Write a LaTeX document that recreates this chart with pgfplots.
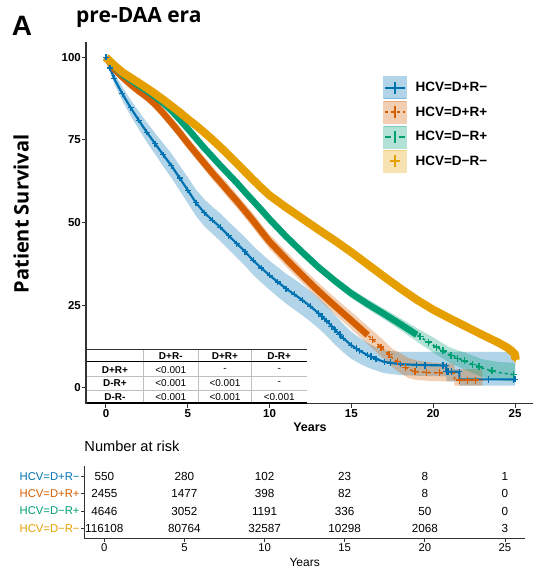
\documentclass[border=0pt]{standalone}
\usepackage{fontspec}
\setmainfont{Liberation Sans}
\newfontfamily\headfont{Open Sans}
\usepackage{pgfplots}
\usepackage{pgfplotstable}
\pgfplotsset{compat=1.18}
\usepgfplotslibrary{fillbetween}

\definecolor{kmblue}{HTML}{0072B2}
\definecolor{kmorange}{HTML}{D55E00}
\definecolor{kmgreen}{HTML}{009E73}
\definecolor{kmyellow}{HTML}{E69F00}
\definecolor{axgray}{HTML}{333333}

% survival curves: time (years), estimate, lower and upper CI (%)
\pgfplotstableread{
x y lo hi
0 100 100 100
0.25 96.8 95.6 98.0
0.5 93.6 92.0 95.2
1 89.0 86.9 91.1
1.5 84.8 82.4 87.2
2 81.0 78.3 83.7
2.5 77.3 74.3 80.3
3 73.9 70.7 77.1
3.5 70.5 67.0 74.0
4 67.2 63.5 70.9
4.5 63.5 59.7 67.3
5 59.8 55.9 63.7
5.5 56.0 52.0 60.0
6 53.0 48.9 57.1
6.5 50.7 46.6 54.8
7 48.5 44.3 52.7
7.5 46.0 41.8 50.2
8 43.6 39.3 47.9
8.5 41.2 36.9 45.5
9 38.5 34.1 42.9
9.5 36.2 31.8 40.6
10 34.0 29.6 38.4
10.5 32.0 27.5 36.5
11 30.0 25.5 34.5
11.5 28.3 23.7 32.9
12 26.5 21.9 31.1
12.5 24.6 20.0 29.2
13 22.5 17.9 27.1
13.5 20.2 15.6 24.8
14 17.5 13.0 22.0
14.5 15.0 10.7 19.3
15 12.8 8.7 16.9
15.5 11.2 7.3 15.1
16 9.8 6.1 13.5
16.5 8.7 5.2 12.2
17 7.8 4.4 11.3
18 7.1 3.8 10.8
19 6.9 3.6 10.8
20.8 6.7 3.4 10.8
20.8 4.8 1.9 10.8
21.6 4.8 1.9 10.8
21.6 2.5 0.6 10.8
25 2.5 0.6 10.8
}\tblue

\pgfplotstableread{
x y lo hi
0 100 100 100
0.5 96.5 95.7 97.3
1 94.0 93.0 95.0
1.5 91.8 90.6 93.0
2 89.8 88.5 91.1
2.5 88.0 86.6 89.4
3 85.8 84.3 87.3
3.5 83.1 81.5 84.7
4 80.2 78.5 81.9
4.5 77.2 75.4 79.0
5 74.0 72.2 75.8
5.5 71.0 69.1 72.9
6 68.0 66.1 69.9
6.5 65.0 63.0 67.0
7 62.2 60.2 64.2
7.5 59.3 57.2 61.4
8 56.5 54.4 58.6
8.5 53.5 51.4 55.6
9 50.5 48.3 52.7
9.5 47.3 45.1 49.5
10 44.2 42.0 46.4
11 39.0 36.7 41.3
12 34.0 31.7 36.3
13 29.2 26.8 31.6
14 24.7 22.2 27.2
15 20.3 17.7 22.9
16 15.9 13.2 18.6
17 11.4 8.6 14.2
17.5 9.0 6.2 11.8
18 7.2 4.4 10.4
18.5 5.5 2.9 9.0
19 4.8 2.3 8.2
20 4.5 2.0 7.6
20.8 4.4 1.9 7.3
21.3 4.4 1.9 7.3
21.3 2.3 0.6 5.6
23 2.3 0.6 5.6
}\torange

\pgfplotstableread{
x y lo hi
0 100 100 100
0.5 97.2 96.8 97.6
1 94.9 94.4 95.4
1.5 93.2 92.6 93.8
2 91.5 90.9 92.1
2.5 89.9 89.2 90.6
3 88.1 87.4 88.8
3.5 86.2 85.5 86.9
4 83.9 83.1 84.7
4.5 81.2 80.4 82.0
5 78.4 77.6 79.2
5.5 75.5 74.6 76.4
6 72.6 71.7 73.5
6.5 69.9 69.0 70.8
7 67.2 66.2 68.2
7.5 64.6 63.6 65.6
8 62.0 61.0 63.0
8.5 59.2 58.2 60.2
9 56.5 55.5 57.5
9.5 53.8 52.7 54.9
10 51.0 49.9 52.1
11 45.8 44.7 46.9
12 41.0 39.8 42.2
13 36.4 35.2 37.6
14 32.3 31.0 33.6
15 28.5 27.1 29.9
16 25.3 23.8 26.8
17 22.3 20.7 23.9
18 19.2 17.4 21.0
19 16.0 14.0 18.0
20 12.9 10.6 15.2
21 9.9 7.6 12.2
22 7.9 5.3 10.5
23 5.9 3.2 8.6
24 4.6 2.2 7.8
25 3.9 1.8 7.5
}\tgreen

\pgfplotstableread{
x y lo hi
0 100 100 100
0.5 97.6 97.3 97.9
1 95.5 95.2 95.8
1.5 93.9 93.6 94.2
2 92.3 92.0 92.6
2.5 90.7 90.4 91.0
3 89.0 88.7 89.3
3.5 87.2 86.9 87.5
4 85.3 85.0 85.6
4.5 83.4 83.1 83.7
5 81.3 81.0 81.6
5.5 79.4 79.1 79.7
6 77.3 77.0 77.6
6.5 75.1 74.8 75.4
7 72.8 72.5 73.1
7.5 70.4 70.1 70.7
8 67.9 67.6 68.2
8.5 65.4 65.1 65.7
9 62.9 62.6 63.2
9.5 60.5 60.2 60.8
10 58.2 57.9 58.5
11 54.6 54.3 54.9
12 51.2 50.9 51.5
13 47.8 47.4 48.2
14 44.5 44.1 44.9
15 41.0 40.6 41.4
16 37.3 36.9 37.7
17 33.6 33.2 34.0
18 30.0 29.5 30.5
19 26.6 26.1 27.1
20 23.6 23.0 24.2
21 21.0 20.3 21.7
22 18.5 17.7 19.3
23 16.0 15.0 17.0
24 13.6 12.4 14.8
24.5 12.2 10.8 13.6
25 10.2 8.3 12.3
25.05 8.4 6.5 10.5
}\tyellow

% censoring marks in the tails
\pgfplotstableread{
x y
13.2 21.5
13.8 18.6
14.3 16.0
15.3 11.8
16.2 9.4
17.4 7.5
19.5 6.8
20.6 6.7
20.9 4.8
21.1 4.8
23.4 2.5
24.9 2.5
}\cblue
\pgfplotstableread{
x y
14.5 22.5
15.2 19.4
15.7 17.2
16.3 14.6
16.8 12.3
17.3 10.0
17.8 7.9
18.3 6.1
18.9 4.9
19.6 4.6
20.4 4.5
21.6 2.3
22.1 2.3
22.6 2.3
}\corange
\pgfplotstableread{
x y
18.5 17.6
19.2 15.4
19.7 13.8
20.2 12.3
20.6 11.1
21.1 9.7
21.5 8.9
21.9 8.1
22.4 7.1
22.8 6.3
23.6 5.1
24.9 3.9
}\cgreen

% number at risk
\pgfplotstableread{
x row n
0 4 550
5 4 280
10 4 102
15 4 23
20 4 8
25 4 1
0 3 2455
5 3 1477
10 3 398
15 3 82
20 3 8
25 3 0
0 2 4646
5 2 3052
10 2 1191
15 2 336
20 2 50
25 2 0
0 1 116108
5 1 80764
10 1 32587
15 1 10298
20 1 2068
25 1 3
}\trisk

\pgfdeclareplotmark{empty}{}

\pgfplotsset{
  kmkey/.style 2 args={legend image code/.code={
    \fill[#1, opacity=0.3] (0pt,-11pt) rectangle (22.7pt,11pt);
    \draw[#1, line width=2pt, #2] (1.5pt,0pt) -- (21.2pt,0pt);
    \draw[#1, line width=2pt] (11.35pt,-6pt) -- (11.35pt,6pt);
  }},
}

\begin{document}
\begin{tikzpicture}
\path (0pt,0pt) rectangle (533pt,-574pt);

\begin{axis}[
  at={(86pt,-403.5pt)}, anchor=south west,
  scale only axis, width=447pt, height=362pt,
  xmin=-1.22, xmax=26.1, ymin=-4.8, ymax=104.8,
  axis x line*=bottom, axis y line*=left,
  axis line style={-, line width=1.1pt, axgray},
  xtick={0,5,10,15,20,25}, ytick={0,25,50,75,100},
  tick align=outside, major tick length=4pt,
  tick style={line width=1pt, axgray},
  /pgf/number format/assume math mode=true,
  tick label style={font=\bfseries\fontsize{11.5}{13}\selectfont, text=black},
  yticklabel style={inner sep=1pt},
  xticklabel style={inner sep=1.5pt},
  xlabel={Years},
  xlabel style={at={(axis description cs:0.501,-0.065)}, anchor=center,
    font=\bfseries\fontsize{12.5}{14}\selectfont},
  ylabel={Patient Survival},
  ylabel style={at={(axis description cs:-0.1454,0.5235)}, anchor=center,
    font=\headfont\bfseries\fontsize{20}{22}\selectfont},
  title={pre-DAA era},
  title style={at={(axis description cs:-0.0224,1.0373)}, anchor=base west,
    inner sep=0pt, font=\headfont\bfseries\fontsize{21}{24}\selectfont},
  legend style={at={(axis description cs:0.665,0.904)}, anchor=north west,
    draw=none, fill=none, font=\bfseries\fontsize{13.5}{15}\selectfont,
    row sep=2.2pt, column sep=9pt, inner sep=0pt, nodes={inner sep=0pt}},
  legend cell align=left,
]
% confidence bands
\addplot[name path=bhi, draw=none, forget plot] table[x=x, y=hi] {\tblue};
\addplot[name path=blo, draw=none, forget plot] table[x=x, y=lo] {\tblue};
\addplot[fill=kmblue, fill opacity=0.3, draw=none, forget plot] fill between[of=bhi and blo];
\addplot[name path=ohi, draw=none, forget plot] table[x=x, y=hi] {\torange};
\addplot[name path=olo, draw=none, forget plot] table[x=x, y=lo] {\torange};
\addplot[fill=kmorange, fill opacity=0.3, draw=none, forget plot] fill between[of=ohi and olo];
\addplot[name path=ghi, draw=none, forget plot] table[x=x, y=hi] {\tgreen};
\addplot[name path=glo, draw=none, forget plot] table[x=x, y=lo] {\tgreen};
\addplot[fill=kmgreen, fill opacity=0.3, draw=none, forget plot] fill between[of=ghi and glo];
\addplot[name path=yhi, draw=none, forget plot] table[x=x, y=hi] {\tyellow};
\addplot[name path=ylo, draw=none, forget plot] table[x=x, y=lo] {\tyellow};
\addplot[fill=kmyellow, fill opacity=0.3, draw=none, forget plot] fill between[of=yhi and ylo];

% D+R-
\addplot[kmblue, line width=2.2pt, line join=round, mark=+, mark size=3pt,
  mark options={line width=1.2pt}, forget plot] table[x=x, y=y] {\tblue};
\addplot[kmblue, only marks, mark=+, mark size=3.5pt, mark options={line width=1.3pt},
  forget plot] table {\cblue};
% D+R+
\addplot[kmorange, line width=6.5pt, line join=round, restrict x to domain=0:16,
  forget plot] table[x=x, y=y] {\torange};
\addplot[kmorange, line width=1.6pt, dashed, forget plot] table[x=x, y=y] {\torange};
\addplot[kmorange, only marks, mark=+, mark size=3.5pt, mark options={line width=1.4pt},
  forget plot] table {\corange};
% D-R+
\addplot[kmgreen, line width=6.5pt, line join=round, restrict x to domain=0:19,
  forget plot] table[x=x, y=y] {\tgreen};
\addplot[kmgreen, line width=1.6pt, dashed, forget plot] table[x=x, y=y] {\tgreen};
\addplot[kmgreen, only marks, mark=+, mark size=3.5pt, mark options={line width=1.4pt},
  forget plot] table {\cgreen};
% D-R-
\addplot[kmyellow, line width=8pt, line join=round, forget plot] table[x=x, y=y] {\tyellow};
\addplot[kmyellow, only marks, mark=+, mark size=4pt, mark options={line width=1.5pt},
  forget plot] coordinates {(25,9.0)};

\addlegendimage{kmkey={kmblue}{solid}}
\addlegendentry{HCV=D+R−}
\addlegendimage{kmkey={kmorange}{dashed}}
\addlegendentry{HCV=D+R+}
\addlegendimage{kmkey={kmgreen}{dash pattern=on 6pt off 3pt on 1.5pt off 3pt}}
\addlegendentry{HCV=D−R+}
\addlegendimage{kmkey={kmyellow}{shorten <=5pt, shorten >=5pt}}
\addlegendentry{HCV=D−R−}
\end{axis}

% pairwise p-value table
\fill[white] (87pt,-349.3pt) rectangle (306.7pt,-403pt);
\draw[black!25, line width=0.7pt]
  (143.3pt,-349.3pt) -- (143.3pt,-403pt)
  (198.3pt,-349.3pt) -- (198.3pt,-403pt)
  (251.7pt,-349.3pt) -- (251.7pt,-403pt)
  (87pt,-376.6pt) -- (306.7pt,-376.6pt)
  (87pt,-390pt) -- (306.7pt,-390pt);
\draw[black!80, line width=0.8pt] (87pt,-349.3pt) -- (306.7pt,-349.3pt);
\draw[black, line width=1.5pt] (87pt,-361.7pt) -- (306.7pt,-361.7pt);
\draw[black, line width=1.5pt] (87pt,-403pt) -- (306.7pt,-403pt);
\begin{scope}[every node/.style={inner sep=0pt, anchor=center, font=\fontsize{10}{11}\selectfont}]
  \node[font=\bfseries\fontsize{10}{11}\selectfont] at (170.8pt,-355.7pt) {D+R-};
  \node[font=\bfseries\fontsize{10}{11}\selectfont] at (225pt,-355.7pt) {D+R+};
  \node[font=\bfseries\fontsize{10}{11}\selectfont] at (279.2pt,-355.7pt) {D-R+};
  \node[font=\bfseries\fontsize{10}{11}\selectfont] at (115pt,-370pt) {D+R+};
  \node[font=\bfseries\fontsize{10}{11}\selectfont] at (115pt,-383.3pt) {D-R+};
  \node[font=\bfseries\fontsize{10}{11}\selectfont] at (115pt,-396.7pt) {D-R-};
  \node at (170.8pt,-370pt) {<0.001};
  \node at (170.8pt,-383.3pt) {<0.001};
  \node at (170.8pt,-396.7pt) {<0.001};
  \node at (225pt,-370pt) {-};
  \node at (225pt,-383.3pt) {<0.001};
  \node at (225pt,-396.7pt) {<0.001};
  \node at (279.2pt,-370pt) {-};
  \node at (279.2pt,-383.3pt) {-};
  \node at (279.2pt,-396.7pt) {<0.001};
\end{scope}

\node[anchor=base west, inner sep=0pt, font=\bfseries\fontsize{28}{30}\selectfont]
  at (11.7pt,-35pt) {A};

% number at risk table
\begin{axis}[
  at={(84.3pt,-538.5pt)}, anchor=south west,
  scale only axis, width=440.7pt, height=72.1pt,
  xmin=-1.25, xmax=26.25, ymin=0.4, ymax=4.6,
  clip=false,
  axis x line*=bottom, axis y line*=left,
  axis line style={-, line width=0.9pt, axgray},
  xtick={0,5,10,15,20,25}, ytick={1,2,3,4},
  yticklabels={{\textcolor{kmyellow}{HCV=D−R−}},{\textcolor{kmgreen}{HCV=D−R+}},
    {\textcolor{kmorange}{HCV=D+R+}},{\textcolor{kmblue}{HCV=D+R−}}},
  tick align=outside, major tick length=3.5pt,
  tick style={line width=0.8pt, axgray},
  /pgf/number format/assume math mode=true,
  tick label style={font=\fontsize{11.3}{13}\selectfont},
  yticklabel style={inner sep=1pt},
  xticklabel style={inner sep=1.5pt},
  title={Number at risk},
  title style={at={(axis description cs:0,1.1234)}, anchor=base west,
    inner sep=0pt, font=\fontsize{14.6}{16}\selectfont},
  xlabel={Years},
  xlabel style={at={(axis description cs:0.5,-0.336)}, anchor=center,
    font=\fontsize{12}{14}\selectfont},
]
\addplot[scatter, only marks, mark=empty, point meta=explicit symbolic,
  scatter/@pre marker code/.code={\node[inner sep=0pt, anchor=center,
    font=\fontsize{11.7}{13}\selectfont, text=black] {\pgfplotspointmeta};},
  scatter/@post marker code/.code={}]
  table[x=x, y=row, meta=n] {\trisk};
\end{axis}
\end{tikzpicture}
\end{document}
